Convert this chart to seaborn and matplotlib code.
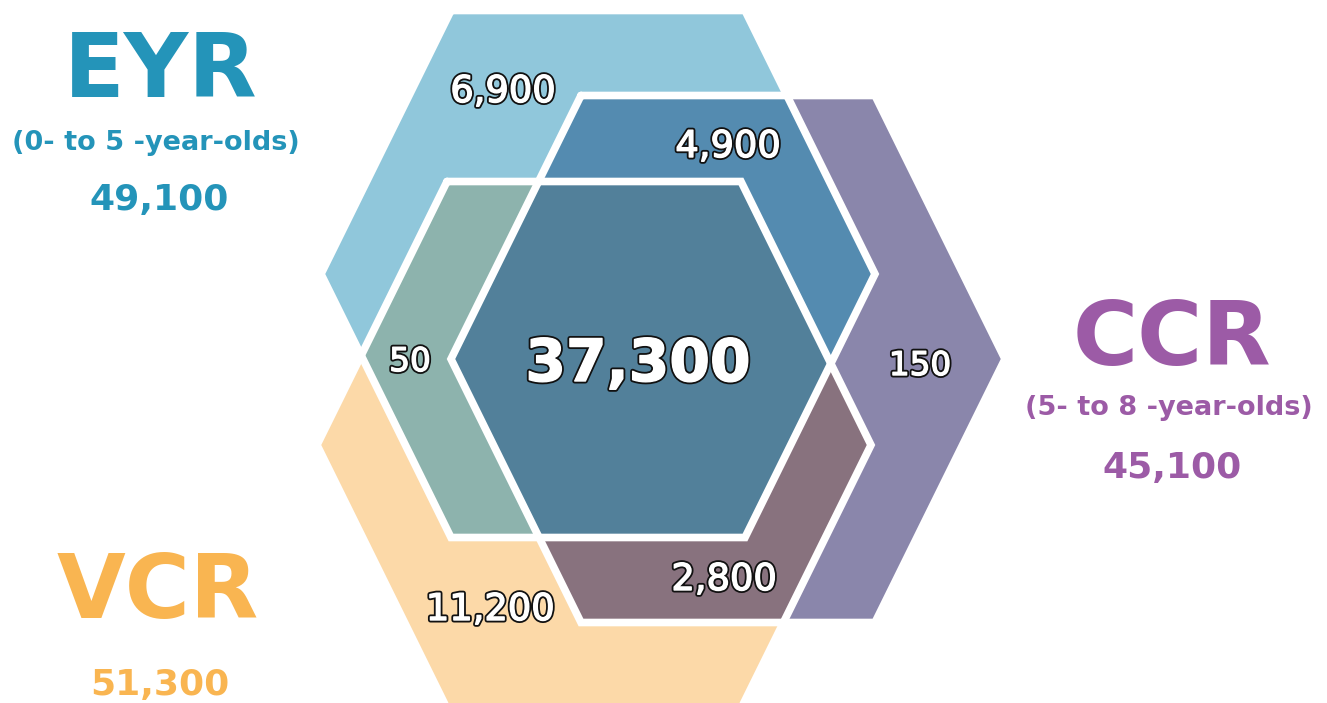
import matplotlib
matplotlib.use("Agg")
import matplotlib.pyplot as plt
import matplotlib.patheffects as pe
import seaborn as sns

# the three sets
set_names = ["EYR", "CCR", "VCR"]
set_ages = ["(0- to 5 -year-olds)", "(5- to 8 -year-olds)", ""]
set_totals = [49100, 45100, 51300]

# regions of the diagram: member sets and head count
region_sets = [("EYR",), ("EYR", "CCR"), ("CCR",), ("CCR", "VCR"),
               ("VCR",), ("EYR", "VCR"), ("EYR", "CCR", "VCR")]
region_values = [6900, 4900, 150, 2800, 11200, 50, 37300]

# colours
set_colors = sns.color_palette(["#2494b9", "#9c5ba6", "#f9b551"])
region_colors = ["#90c7db", "#548bb0", "#8a86ab", "#88727e",
                 "#fcd9a8", "#8db3ad", "#52809a"]

# layout (pixel space, y down)
hex_centers = {"EYR": (598, 274), "CCR": (728, 359), "VCR": (594, 445)}
HALF_W, HALF_TOP, HALF_H = 277, 147, 263.5
label_pos = [(503, 102), (728, 157), (920, 375), (724, 590),
             (490, 620), (410, 371), (638, 381)]
label_size = [26.5, 26.5, 23.5, 26.5, 26.5, 23.5, 42]
title_pos = [(161, 97), (1172, 365), (158, 618)]
sub_pos = [(156, 150), (1169, 415), None]
total_pos = [(159, 210), (1172, 478), (160, 695)]


def hexagon(cx, cy):
    return [(cx - HALF_TOP, cy - HALF_H), (cx + HALF_TOP, cy - HALF_H),
            (cx + HALF_W, cy), (cx + HALF_TOP, cy + HALF_H),
            (cx - HALF_TOP, cy + HALF_H), (cx - HALF_W, cy)]


def cross(a, b, p):
    return (b[0] - a[0]) * (p[1] - a[1]) - (b[1] - a[1]) * (p[0] - a[0])


def clip(subject, clipper):
    # Sutherland-Hodgman, clipper is convex
    cx = sum(p[0] for p in clipper) / len(clipper)
    cy = sum(p[1] for p in clipper) / len(clipper)
    out = list(subject)
    for i in range(len(clipper)):
        a, b = clipper[i], clipper[(i + 1) % len(clipper)]
        sgn = 1 if cross(a, b, (cx, cy)) > 0 else -1
        inp, out = out, []
        for j in range(len(inp)):
            p, q = inp[j], inp[(j + 1) % len(inp)]
            dp, dq = sgn * cross(a, b, p), sgn * cross(a, b, q)
            if dp >= 0:
                out.append(p)
            if (dp >= 0) != (dq >= 0):
                t = dp / (dp - dq)
                out.append((p[0] + t * (q[0] - p[0]), p[1] + t * (q[1] - p[1])))
    return out


def region_shape(members):
    poly = hexagon(*hex_centers[members[0]])
    for m in members[1:]:
        poly = clip(poly, hexagon(*hex_centers[m]))
    return poly


sns.set_theme(style="white")
plt.rcParams["font.family"] = ["DejaVu Sans"]

fig = plt.figure(figsize=(13.27, 7.03), dpi=100)
ax = fig.add_axes([0, 0, 1, 1])
ax.set_xlim(0, 1327)
ax.set_ylim(703, 0)
ax.axis("off")

# fills: singles first, then pairs, then the centre
order = sorted(range(len(region_sets)), key=lambda i: len(region_sets[i]))
for i in order:
    poly = region_shape(region_sets[i])
    xs, ys = zip(*poly)
    ax.fill(xs, ys, color=region_colors[i], lw=0, zorder=1 + len(region_sets[i]))

# white borders along every hexagon edge
for name in set_names:
    poly = hexagon(*hex_centers[name])
    xs, ys = zip(*(poly + poly[:1]))
    ax.plot(xs, ys, color="white", lw=5.5, solid_joinstyle="miter", zorder=6)

outline = [pe.Stroke(linewidth=3.6, foreground="#111111"),
           pe.Stroke(linewidth=1.0, foreground="white"), pe.Normal()]
for i, v in enumerate(region_values):
    x, y = label_pos[i]
    ax.text(x, y, f"{v:,}", fontsize=label_size[i], color="white",
            fontweight="bold" if i == 6 else "normal",
            ha="center", va="baseline", path_effects=outline, zorder=7)

for i, name in enumerate(set_names):
    c = set_colors[i]
    ax.text(*title_pos[i], name, fontsize=64, fontweight="bold", color=c,
            ha="center", va="baseline")
    if sub_pos[i] is not None:
        ax.text(*sub_pos[i], set_ages[i], fontsize=19.5, fontweight="bold",
                color=c, ha="center", va="baseline")
    ax.text(*total_pos[i], f"{set_totals[i]:,}", fontsize=26, fontweight="bold",
            color=c, ha="center", va="baseline")

fig.savefig("out.png", dpi=100)
